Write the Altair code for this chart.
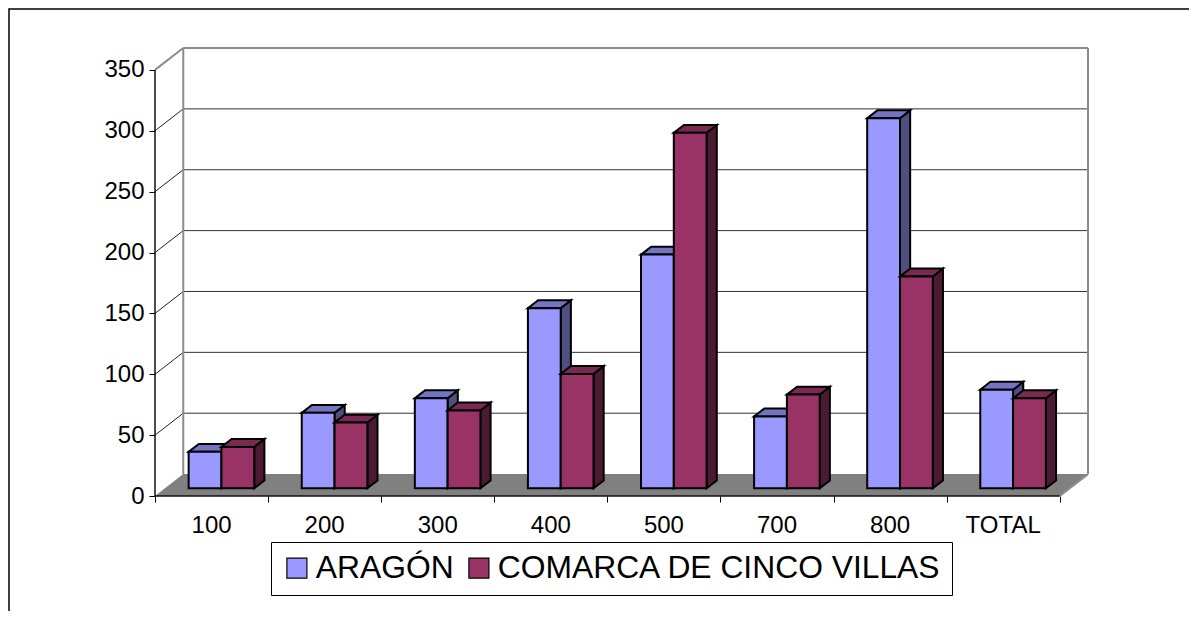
import altair as alt
import pandas as pd

# ---------------- data ----------------
categories = ["100", "200", "300", "400", "500", "700", "800", "TOTAL"]
aragon = [30, 62, 74, 148, 192, 59, 304, 81]
comarca = [34, 54, 64, 94, 292, 77, 174, 74]
series_names = ["ARAGÓN", "COMARCA DE CINCO VILLAS"]
series_values = [aragon, comarca]
y_ticks = [0, 50, 100, 150, 200, 250, 300, 350]

# ---------------- style ----------------
front_colors = ["#9999FF", "#993366"]
top_colors = ["#7375C2", "#7A2952"]
side_colors = ["#4F4F80", "#4D1A33"]
FONT = "Liberation Sans"

N = len(categories)
YMAX = 350
DX = 0.25   # floor depth, in category units
DY = 18     # floor depth, in value units
F0 = 0.35   # depth of bar front face (fraction of floor depth)
FD = 0.36   # bar depth (fraction of floor depth)
BW = 0.29   # bar width, category units

xs = alt.Scale(domain=[0, N + DX], nice=False, zero=False)
ys = alt.Scale(domain=[0, YMAX + DY], nice=False, zero=False)
xaxis = alt.Axis(values=list(range(N + 1)), labels=False, ticks=True, tickSize=6,
                 tickColor="black", tickWidth=1, domain=False, grid=False, title=None)
yaxis = alt.Axis(values=y_ticks, tickSize=6, tickColor="black", tickWidth=1, domain=False,
                 grid=False, labelFontSize=24, labelFont=FONT, labelColor="black",
                 labelPadding=5, title=None)


def X(f):
    return alt.X(f, type="quantitative", scale=xs, axis=xaxis)


def Y(f):
    return alt.Y(f, type="quantitative", scale=ys, axis=yaxis, stack=None)


# ---------------- geometry derived from data ----------------
front_rows, top_rows, side_rows = [], [], []
bdx, bdy = FD * DX, FD * DY
base = F0 * DY
for s, (name, vals) in enumerate(zip(series_names, series_values)):
    for i, v in enumerate(vals):
        c = i + 0.5
        xl = c - BW + s * BW + F0 * DX
        xr = xl + BW
        top = base + v
        fid = f"{s}-{i}"
        front_rows.append(dict(series=name, s=s, x=xl, x2=xr, y=base, y2=top))
        top_rows += [
            dict(s=s, face=fid, x=xl, y=top, y2=top),
            dict(s=s, face=fid, x=xl + bdx, y=top, y2=top + bdy),
            dict(s=s, face=fid, x=xr, y=top, y2=top + bdy),
            dict(s=s, face=fid, x=xr + bdx, y=top + bdy, y2=top + bdy),
        ]
        side_rows += [
            dict(s=s, face=fid, x=xr, y=base, y2=top),
            dict(s=s, face=fid, x=xr + bdx, y=base + bdy, y2=top + bdy),
        ]
front_df = pd.DataFrame(front_rows)
top_df = pd.DataFrame(top_rows)
side_df = pd.DataFrame(side_rows)

floor_df = pd.DataFrame([
    dict(face="floor", x=0, y=0, y2=0),
    dict(face="floor", x=DX, y=0, y2=DY),
    dict(face="floor", x=N, y=0, y2=DY),
    dict(face="floor", x=N + DX, y=DY, y2=DY),
])

grid_vals = [v for v in y_ticks if 0 < v < YMAX]
back_grid = pd.DataFrame([dict(x=DX, x2=N + DX, y=v + DY, y2=v + DY) for v in grid_vals])
side_grid = pd.DataFrame([dict(x=0, x2=DX, y=v, y2=v + DY) for v in grid_vals])
wall_edges = pd.DataFrame([
    dict(x=DX, x2=DX, y=DY, y2=YMAX + DY),
    dict(x=0, x2=DX, y=YMAX, y2=YMAX + DY),
    dict(x=DX, x2=N + DX, y=YMAX + DY, y2=YMAX + DY),
    dict(x=N + DX, x2=N + DX, y=DY, y2=YMAX + DY),
    dict(x=N, x2=N + DX, y=0, y2=DY),
])
front_axes = pd.DataFrame([
    dict(x=0, x2=0, y=0, y2=YMAX),
    dict(x=0, x2=N, y=0, y2=0),
])
label_df = pd.DataFrame(dict(cat=categories, x=[i + 0.5 for i in range(N)], y=[0] * N))


def rules(df, color, width):
    return alt.Chart(df).mark_rule(color=color, strokeWidth=width).encode(
        x=X("x"), x2="x2:Q", y=Y("y"), y2="y2:Q")


legend = alt.Legend(orient="none", legendX=116, legendY=494, direction="horizontal",
                    title=None, symbolType="square", symbolSize=400,
                    symbolStrokeColor="black", symbolStrokeWidth=1.2, symbolOpacity=1,
                    labelFontSize=31.8, labelFont=FONT, labelColor="black", labelLimit=0,
                    labelOffset=3, columnPadding=9, padding=10, strokeColor="black",
                    fillColor="white")
color_enc = alt.Color("series:N", scale=alt.Scale(domain=series_names, range=front_colors),
                      legend=legend)

layers = []
# outer chart-area border
layers.append(alt.Chart(pd.DataFrame({"a": [0]})).mark_rect(
    fillOpacity=0, stroke="black", strokeWidth=1.5).encode(
    x=alt.value(-146), x2=alt.value(1300), y=alt.value(-39), y2=alt.value(900)))
# floor
layers.append(alt.Chart(floor_df).mark_area(fill="#808080", interpolate="linear").encode(
    x=X("x"), y=Y("y"), y2="y2:Q", detail="face:N"))
layers.append(rules(back_grid, "#333333", 1))
layers.append(rules(side_grid, "#222222", 1))
layers.append(rules(wall_edges, "#8C8C8C", 2))
layers.append(rules(front_axes, "#111111", 1.5))

for s in range(len(series_names)):
    layers.append(alt.Chart(side_df[side_df.s == s]).mark_area(
        fill=side_colors[s], stroke="black", strokeWidth=2, interpolate="linear").encode(
        x=X("x"), y=Y("y"), y2="y2:Q", detail="face:N"))
    layers.append(alt.Chart(top_df[top_df.s == s]).mark_area(
        fill=top_colors[s], stroke="black", strokeWidth=2, interpolate="linear").encode(
        x=X("x"), y=Y("y"), y2="y2:Q", detail="face:N"))
    layers.append(alt.Chart(front_df[front_df.s == s]).mark_rect(
        stroke="black", strokeWidth=2, opacity=1).encode(
        x=X("x"), x2="x2:Q", y=Y("y"), y2="y2:Q", color=color_enc))

layers.append(alt.Chart(label_df).mark_text(
    dy=30, baseline="middle", align="center", fontSize=24, font=FONT, color="black").encode(
    x=X("x"), y=Y("y"), text="cat:N"))

chart = alt.layer(*layers).properties(
    width=933, height=448,
    autosize=alt.AutoSizeParams(type="none"),
    padding={"left": 147, "top": 40, "right": 101, "bottom": 115},
    background="white",
).configure_view(stroke=None)

chart.save("out.html", embed_options={"renderer": "svg", "actions": False})
